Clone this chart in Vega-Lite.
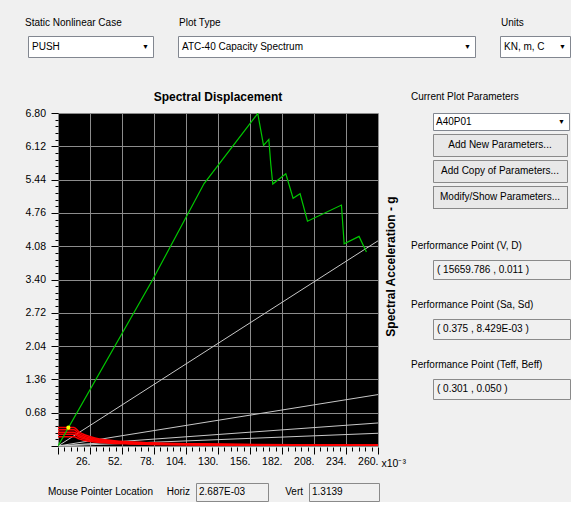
{
  "$schema": "https://vega.github.io/schema/vega-lite/v6.json",
  "background": "#f0f0f0",
  "padding": {"left": 24, "top": 17, "right": 0, "bottom": 0},
  "bounds": "full",
  "spacing": 13,
  "config": {
    "view": {"stroke": null},
    "font": "Liberation Sans, Arial, sans-serif",
    "text": {"fontSize": 10, "color": "#000000"},
    "title": {"fontSize": 10, "fontWeight": "normal", "color": "#000000", "anchor": "start"},
    "axis": {"labelColor": "#000000", "titleColor": "#000000"}
  },
  "datasets": {
    "periods": [
      {"period": "T=0.5 s", "sd": 0, "sa": 0}, {"period": "T=0.5 s", "sd": 260, "sa": 4.19},
      {"period": "T=1.0 s", "sd": 0, "sa": 0}, {"period": "T=1.0 s", "sd": 260, "sa": 1.05},
      {"period": "T=1.5 s", "sd": 0, "sa": 0}, {"period": "T=1.5 s", "sd": 260, "sa": 0.47},
      {"period": "T=2.0 s", "sd": 0, "sa": 0}, {"period": "T=2.0 s", "sd": 260, "sa": 0.26}
    ],
    "demand": [
      {"curve": "D1", "sd": 0, "sa": 0.38}, {"curve": "D1", "sd": 13, "sa": 0.38}, {"curve": "D1", "sd": 17, "sa": 0.291}, {"curve": "D1", "sd": 22, "sa": 0.225}, {"curve": "D1", "sd": 30, "sa": 0.165}, {"curve": "D1", "sd": 40, "sa": 0.124}, {"curve": "D1", "sd": 55, "sa": 0.09}, {"curve": "D1", "sd": 75, "sa": 0.066}, {"curve": "D1", "sd": 110, "sa": 0.045}, {"curve": "D1", "sd": 160, "sa": 0.031}, {"curve": "D1", "sd": 260, "sa": 0.019},
      {"curve": "D2", "sd": 0, "sa": 0.33}, {"curve": "D2", "sd": 13, "sa": 0.33}, {"curve": "D2", "sd": 17, "sa": 0.252}, {"curve": "D2", "sd": 22, "sa": 0.195}, {"curve": "D2", "sd": 30, "sa": 0.143}, {"curve": "D2", "sd": 40, "sa": 0.107}, {"curve": "D2", "sd": 55, "sa": 0.078}, {"curve": "D2", "sd": 75, "sa": 0.057}, {"curve": "D2", "sd": 110, "sa": 0.039}, {"curve": "D2", "sd": 160, "sa": 0.027}, {"curve": "D2", "sd": 260, "sa": 0.0165},
      {"curve": "D3", "sd": 0, "sa": 0.28}, {"curve": "D3", "sd": 13, "sa": 0.28}, {"curve": "D3", "sd": 17, "sa": 0.214}, {"curve": "D3", "sd": 22, "sa": 0.165}, {"curve": "D3", "sd": 30, "sa": 0.121}, {"curve": "D3", "sd": 40, "sa": 0.091}, {"curve": "D3", "sd": 55, "sa": 0.066}, {"curve": "D3", "sd": 75, "sa": 0.049}, {"curve": "D3", "sd": 110, "sa": 0.033}, {"curve": "D3", "sd": 160, "sa": 0.023}, {"curve": "D3", "sd": 260, "sa": 0.014},
      {"curve": "D4", "sd": 0, "sa": 0.24}, {"curve": "D4", "sd": 13, "sa": 0.24}, {"curve": "D4", "sd": 17, "sa": 0.184}, {"curve": "D4", "sd": 22, "sa": 0.142}, {"curve": "D4", "sd": 30, "sa": 0.104}, {"curve": "D4", "sd": 40, "sa": 0.078}, {"curve": "D4", "sd": 55, "sa": 0.057}, {"curve": "D4", "sd": 75, "sa": 0.042}, {"curve": "D4", "sd": 110, "sa": 0.028}, {"curve": "D4", "sd": 160, "sa": 0.0195}, {"curve": "D4", "sd": 260, "sa": 0.012},
      {"curve": "D5", "sd": 0, "sa": 0.19}, {"curve": "D5", "sd": 13, "sa": 0.19}, {"curve": "D5", "sd": 17, "sa": 0.145}, {"curve": "D5", "sd": 22, "sa": 0.112}, {"curve": "D5", "sd": 30, "sa": 0.082}, {"curve": "D5", "sd": 40, "sa": 0.062}, {"curve": "D5", "sd": 55, "sa": 0.045}, {"curve": "D5", "sd": 75, "sa": 0.033}, {"curve": "D5", "sd": 110, "sa": 0.022}, {"curve": "D5", "sd": 160, "sa": 0.0155}, {"curve": "D5", "sd": 260, "sa": 0.0095}
    ],
    "capacity": [
      {"sd": 0, "sa": 0}, {"sd": 77, "sa": 3.4}, {"sd": 118.7, "sa": 5.36}, {"sd": 162.3, "sa": 6.79},
      {"sd": 167, "sa": 6.14}, {"sd": 171.3, "sa": 6.26}, {"sd": 172.9, "sa": 5.75}, {"sd": 174.5, "sa": 5.35},
      {"sd": 185.1, "sa": 5.56}, {"sd": 191, "sa": 5.06}, {"sd": 196.7, "sa": 5.15}, {"sd": 202.7, "sa": 4.59},
      {"sd": 230.3, "sa": 4.92}, {"sd": 232.5, "sa": 4.13}, {"sd": 244.6, "sa": 4.28}, {"sd": 250.6, "sa": 3.96}
    ],
    "perf": [{"sd": 8.429, "sa": 0.375}]
  },
  "vconcat": [
    {
      "bounds": "full",
      "spacing": 33,
      "vconcat": [
        {
          "bounds": "flush",
          "spacing": 25,
          "hconcat": [
            {
              "width": 125, "height": 21,
              "view": {"fill": "#ffffff", "stroke": "#828790"},
              "title": {"text": "Static Nonlinear Case", "offset": 8, "dx": -3},
              "data": {"values": [{"v": "PUSH"}]},
              "layer": [
                {"mark": {"type": "text", "align": "left", "baseline": "middle", "dx": 4}, "encoding": {"x": {"datum": 0, "type": "quantitative", "scale": {"domain": [0, 1]}, "axis": null}, "text": {"field": "v"}}},
                {"mark": {"type": "text", "align": "right", "baseline": "middle", "dx": -4, "fontSize": 7, "text": "▼"}, "encoding": {"x": {"datum": 1, "type": "quantitative"}}}
              ]
            },
            {
              "width": 297, "height": 21,
              "view": {"fill": "#ffffff", "stroke": "#828790"},
              "title": {"text": "Plot Type", "offset": 8, "dx": 1},
              "data": {"values": [{"v": "ATC-40 Capacity Spectrum"}]},
              "layer": [
                {"mark": {"type": "text", "align": "left", "baseline": "middle", "dx": 4}, "encoding": {"x": {"datum": 0, "type": "quantitative", "scale": {"domain": [0, 1]}, "axis": null}, "text": {"field": "v"}}},
                {"mark": {"type": "text", "align": "right", "baseline": "middle", "dx": -4, "fontSize": 7, "text": "▼"}, "encoding": {"x": {"datum": 1, "type": "quantitative"}}}
              ]
            },
            {
              "width": 70, "height": 21,
              "view": {"fill": "#ffffff", "stroke": "#828790"},
              "title": {"text": "Units", "offset": 8, "dx": 1},
              "data": {"values": [{"v": "KN, m, C"}]},
              "layer": [
                {"mark": {"type": "text", "align": "left", "baseline": "middle", "dx": 4}, "encoding": {"x": {"datum": 0, "type": "quantitative", "scale": {"domain": [0, 1]}, "axis": null}, "text": {"field": "v"}}},
                {"mark": {"type": "text", "align": "right", "baseline": "middle", "dx": -4, "fontSize": 7, "text": "▼"}, "encoding": {"x": {"datum": 1, "type": "quantitative"}}}
              ]
            }
          ]
        },
        {
          "bounds": "full",
          "spacing": 4,
          "hconcat": [
            {
              "bounds": "flush",
              "spacing": 25,
              "hconcat": [
                {"width": 5, "height": 5, "data": {"values": []}, "mark": "point"},
                {
                  "width": 320, "height": 333,
                  "view": {"fill": "#000000", "stroke": null},
                  "title": {"text": "Spectral Displacement", "anchor": "middle", "fontSize": 12, "fontWeight": "bold", "offset": 4},
                  "layer": [
                    {
                      "data": {"name": "periods"},
                      "mark": {"type": "line", "color": "#c8c8c8", "strokeWidth": 1, "clip": true},
                      "encoding": {
                        "x": {"field": "sd", "type": "quantitative", "scale": {"domain": [0, 260], "nice": false, "zero": true},
                          "axis": {"orient": "bottom", "values": [0, 26, 52, 78, 104, 130, 156, 182, 208, 234, 260], "grid": true, "gridColor": "#8c8c8c", "gridWidth": 1, "domain": false, "tickColor": "#000000", "tickSize": 7, "offset": 1, "labelExpr": "datum.value == 0 ? '' : datum.value + '.'", "labelAlign": "right", "labelDx": -1, "labelPadding": 2, "labelFontSize": 10.5, "labelFlush": false, "labelOverlap": false, "title": "x10⁻³", "titleX": 323, "titleY": 16, "titleAlign": "left", "titleBaseline": "middle", "titleFontWeight": "normal", "titleFontSize": 10.5}},
                        "y": {"field": "sa", "type": "quantitative", "scale": {"domain": [0, 6.8], "nice": false, "zero": true},
                          "axis": {"orient": "left", "values": [0, 0.68, 1.36, 2.04, 2.72, 3.4, 4.08, 4.76, 5.44, 6.12, 6.8], "grid": true, "gridColor": "#8c8c8c", "gridWidth": 1, "domain": false, "tickColor": "#000000", "tickSize": 7, "labelExpr": "datum.value == 0 ? '' : format(datum.value, '.2f')", "labelPadding": 5.5, "labelFontSize": 10.5, "labelFlush": false, "labelOverlap": false, "labelBaseline": "middle", "title": "Spectral Acceleration - g", "titleX": 332, "titleY": 153, "titleAngle": 270, "titleAlign": "center", "titleBaseline": "middle", "titleFontWeight": "bold", "titleFontSize": 12}},
                        "detail": {"field": "period"}
                      }
                    },
                    {
                      "data": {"name": "demand"},
                      "mark": {"type": "line", "color": "#ff0000", "strokeWidth": 1.5, "interpolate": "monotone", "clip": true},
                      "encoding": {
                        "x": {"field": "sd", "type": "quantitative", "axis": null},
                        "y": {"field": "sa", "type": "quantitative", "axis": null},
                        "detail": {"field": "curve"}
                      }
                    },
                    {
                      "data": {"name": "capacity"},
                      "mark": {"type": "line", "color": "#00c800", "strokeWidth": 1.2, "clip": true},
                      "encoding": {
                        "x": {"field": "sd", "type": "quantitative", "axis": null},
                        "y": {"field": "sa", "type": "quantitative", "axis": null}
                      }
                    },
                    {
                      "data": {"name": "perf"},
                      "mark": {"type": "point", "filled": true, "color": "#ffff00", "size": 18, "opacity": 1},
                      "encoding": {
                        "x": {"field": "sd", "type": "quantitative",
                          "axis": {"orient": "bottom", "values": [5.2, 10.4, 15.6, 20.8, 31.2, 36.4, 41.6, 46.8, 57.2, 62.4, 67.6, 72.8, 83.2, 88.4, 93.6, 98.8, 109.2, 114.4, 119.6, 124.8, 135.2, 140.4, 145.6, 150.8, 161.2, 166.4, 171.6, 176.8, 187.2, 192.4, 197.6, 202.8, 213.2, 218.4, 223.6, 228.8, 239.2, 244.4, 249.6, 254.8], "grid": false, "labels": false, "domain": false, "tickSize": 4, "tickColor": "#000000", "offset": 1, "title": null}},
                        "y": {"field": "sa", "type": "quantitative",
                          "axis": {"orient": "left", "values": [0.136, 0.272, 0.408, 0.544, 0.816, 0.952, 1.088, 1.224, 1.496, 1.632, 1.768, 1.904, 2.176, 2.312, 2.448, 2.584, 2.856, 2.992, 3.128, 3.264, 3.536, 3.672, 3.808, 3.944, 4.216, 4.352, 4.488, 4.624, 4.896, 5.032, 5.168, 5.304, 5.576, 5.712, 5.848, 5.984, 6.256, 6.392, 6.528, 6.664], "grid": false, "labels": false, "domain": false, "tickSize": 3, "tickColor": "#000000", "title": null}}
                      }
                    }
                  ],
                  "resolve": {"axis": {"x": "independent", "y": "independent"}}
                }
              ]
            },
            {
              "bounds": "full",
              "spacing": 31,
              "vconcat": [
                {
                  "bounds": "flush",
                  "spacing": 4,
                  "vconcat": [
                    {
                      "width": 136, "height": 17,
                      "view": {"fill": "#ffffff", "stroke": "#828790"},
                      "title": {"text": "Current Plot Parameters", "offset": 11, "dx": -22},
                      "data": {"values": [{"v": "A40P01"}]},
                      "layer": [
                        {"mark": {"type": "text", "align": "left", "baseline": "middle", "dx": 3}, "encoding": {"x": {"datum": 0, "type": "quantitative", "scale": {"domain": [0, 1]}, "axis": null}, "text": {"field": "v"}}},
                        {"mark": {"type": "text", "align": "right", "baseline": "middle", "dx": -4, "fontSize": 7, "text": "▼"}, "encoding": {"x": {"datum": 1, "type": "quantitative"}}}
                      ]
                    },
                    {
                      "width": 134, "height": 22,
                      "view": {"fill": "#e8e8e8", "stroke": "#8a8a8a"},
                      "data": {"values": [{"v": "Add New Parameters..."}]},
                      "mark": {"type": "text", "baseline": "middle"},
                      "encoding": {"text": {"field": "v"}}
                    },
                    {
                      "width": 134, "height": 22,
                      "view": {"fill": "#e8e8e8", "stroke": "#8a8a8a"},
                      "data": {"values": [{"v": "Add Copy of Parameters..."}]},
                      "mark": {"type": "text", "baseline": "middle"},
                      "encoding": {"text": {"field": "v"}}
                    },
                    {
                      "width": 134, "height": 22,
                      "view": {"fill": "#e8e8e8", "stroke": "#222222", "strokeDash": [1, 1]},
                      "data": {"values": [{"v": "Modify/Show Parameters..."}]},
                      "mark": {"type": "text", "baseline": "middle"},
                      "encoding": {"text": {"field": "v"}}
                    }
                  ]
                },
                {
                  "bounds": "flush",
                  "spacing": 40,
                  "vconcat": [
                    {
                      "width": 137, "height": 19,
                      "view": {"fill": "#f0f0f0", "stroke": "#8a8a8a"},
                      "title": {"text": "Performance Point (V, D)", "offset": 9, "dx": -22},
                      "data": {"values": [{"v": "( 15659.786 , 0.011 )"}]},
                      "mark": {"type": "text", "align": "left", "baseline": "middle", "dx": 4},
                      "encoding": {"x": {"datum": 0, "type": "quantitative", "scale": {"domain": [0, 1]}, "axis": null}, "text": {"field": "v"}}
                    },
                    {
                      "width": 137, "height": 20,
                      "view": {"fill": "#f0f0f0", "stroke": "#8a8a8a"},
                      "title": {"text": "Performance Point (Sa, Sd)", "offset": 9, "dx": -22},
                      "data": {"values": [{"v": "( 0.375 , 8.429E-03 )"}]},
                      "mark": {"type": "text", "align": "left", "baseline": "middle", "dx": 4},
                      "encoding": {"x": {"datum": 0, "type": "quantitative", "scale": {"domain": [0, 1]}, "axis": null}, "text": {"field": "v"}}
                    },
                    {
                      "width": 137, "height": 20,
                      "view": {"fill": "#f0f0f0", "stroke": "#8a8a8a"},
                      "title": {"text": "Performance Point (Teff, Beff)", "offset": 9, "dx": -22},
                      "data": {"values": [{"v": "( 0.301 , 0.050 )"}]},
                      "mark": {"type": "text", "align": "left", "baseline": "middle", "dx": 4},
                      "encoding": {"x": {"datum": 0, "type": "quantitative", "scale": {"domain": [0, 1]}, "axis": null}, "text": {"field": "v"}}
                    }
                  ]
                }
              ]
            }
          ]
        }
      ]
    },
    {
      "bounds": "flush",
      "spacing": 41,
      "hconcat": [
        {
          "width": 127, "height": 18,
          "data": {"values": [{"v": "Mouse Pointer Location"}]},
          "mark": {"type": "text", "align": "right", "baseline": "middle", "dx": -2},
          "encoding": {"x": {"datum": 1, "type": "quantitative", "scale": {"domain": [0, 1]}, "axis": null}, "text": {"field": "v"}}
        },
        {
          "width": 72, "height": 18,
          "view": {"fill": "#f0f0f0", "stroke": "#8a8a8a"},
          "data": {"values": [{"v": "2.687E-03", "label": "Horiz"}]},
          "layer": [
            {"mark": {"type": "text", "align": "left", "baseline": "middle", "dx": 3}, "encoding": {"x": {"datum": 0, "type": "quantitative", "scale": {"domain": [0, 1]}, "axis": null}, "text": {"field": "v"}}},
            {"mark": {"type": "text", "align": "right", "baseline": "middle", "dx": -6}, "encoding": {"x": {"datum": 0, "type": "quantitative"}, "text": {"field": "label"}}}
          ]
        },
        {
          "width": 70, "height": 18,
          "view": {"fill": "#f0f0f0", "stroke": "#8a8a8a"},
          "data": {"values": [{"v": "1.3139", "label": "Vert"}]},
          "layer": [
            {"mark": {"type": "text", "align": "left", "baseline": "middle", "dx": 3}, "encoding": {"x": {"datum": 0, "type": "quantitative", "scale": {"domain": [0, 1]}, "axis": null}, "text": {"field": "v"}}},
            {"mark": {"type": "text", "align": "right", "baseline": "middle", "dx": -6}, "encoding": {"x": {"datum": 0, "type": "quantitative"}, "text": {"field": "label"}}}
          ]
        }
      ]
    }
  ]
}
